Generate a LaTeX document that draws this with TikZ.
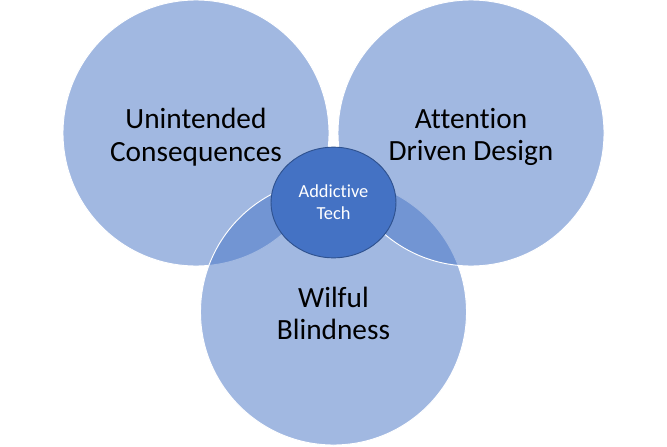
\documentclass[tikz,border=0pt]{standalone}
\usepackage{fontspec}
\setmainfont{Carlito}[Ligatures=NoCommon, Contextuals=NoAlternate]
\usetikzlibrary{shapes.geometric}

\definecolor{vennblue}{HTML}{4472C4}
\definecolor{vennedge}{HTML}{2F528F}

\begin{document}
\begin{tikzpicture}[x=0.75pt, y=-0.75pt,
        venn/.style={circle, minimum size=199.5pt, inner sep=0pt,
            fill=vennblue, fill opacity=0.5, draw=white, line width=0.7pt},
        vennlabel/.style={align=center, text=black,
            font=\fontsize{22}{24.5}\selectfont},
        core/.style={ellipse, minimum width=93.75pt, minimum height=83pt,
            inner sep=0pt, fill=vennblue, draw=vennedge, line width=0.7pt,
            text=white, align=center, font=\fontsize{13.8}{16.5}\selectfont}]
        \useasboundingbox (0, 0) rectangle (667, 446);

        \node[venn] (uc) at (196, 133) {};
        \node[venn] (wb) at (333.5, 312) {};
        \node[venn] (ad) at (471, 133) {};

        \node[vennlabel] (uc-text) at ([yshift=-3pt]uc.center) {Unintended\\Consequences};
        \node[vennlabel] (ad-text) at ([yshift=-3pt]ad.center) {Attention\\Driven Design};
        \node[vennlabel] (wb-text) at ([yshift=-1pt]wb.center) {Wilful\\Blindness};

        \node[core] (tech) at (333.5, 202.5) {Addictive\\Tech};
        \end{tikzpicture}
\end{document}
